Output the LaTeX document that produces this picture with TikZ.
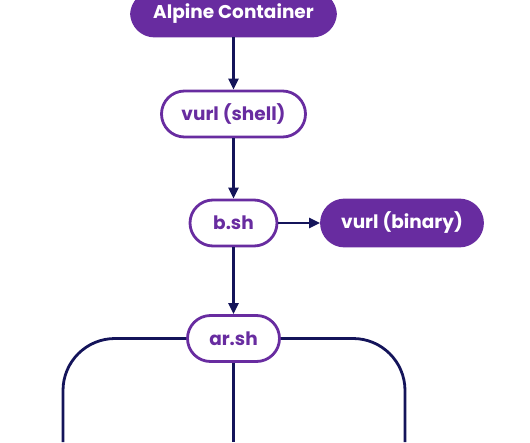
\documentclass[tikz,border=0pt]{standalone}
\usepackage{fontspec}
\setmainfont{Poppins}
\usetikzlibrary{arrows.meta,positioning}
\definecolor{vpurple}{RGB}{104,44,160}
\definecolor{vnavy}{RGB}{20,20,90}
\begin{document}
\begin{tikzpicture}[x=1pt,y=1pt,
  pill/.style={rectangle,rounded corners=23pt,line width=2.8pt,draw=vpurple,minimum height=46pt,font=\fontsize{18.5}{22}\selectfont\bfseries,inner sep=0pt},
  hollow/.style={pill,fill=white,text=vpurple},
  solidpill/.style={pill,fill=vpurple,text=white},
  link/.style={line width=2.8pt,draw=vnavy,-{Triangle[width=10pt,length=11pt]}},
  branch/.style={line width=2.8pt,draw=vnavy,rounded corners=52pt}]
\useasboundingbox (0,0) rectangle (530,-442);
\clip (0,0) rectangle (530,-442);

\node[solidpill,minimum width=204pt,minimum height=44pt] (alpine) at (233.5,-14) {Alpine Container};
\node[hollow,minimum width=144pt] (shell) at (233.5,-114) {vurl (shell)};
\node[hollow,minimum width=87pt] (bsh) at (233.5,-223) {b.sh};
\node[solidpill,minimum width=161pt] (binary) at (402,-223) {vurl (binary)};
\node[hollow,minimum width=92pt] (arsh) at (233.5,-338.5) {ar.sh};

\coordinate (leftend) at (63,-442);
\coordinate (midend) at (233.5,-442);
\coordinate (rightend) at (405,-442);

\draw[link](alpine.south)--(shell.north);
\draw[link](shell.south)--(bsh.north);
\draw[link](bsh.east)--(binary.west);
\draw[link](bsh.south)--(arsh.north);

\draw[branch](arsh.west)-|(leftend);
\draw[branch](arsh.east)-|(rightend);
\draw[branch](arsh.south)--(midend);
\end{tikzpicture}
\end{document}
